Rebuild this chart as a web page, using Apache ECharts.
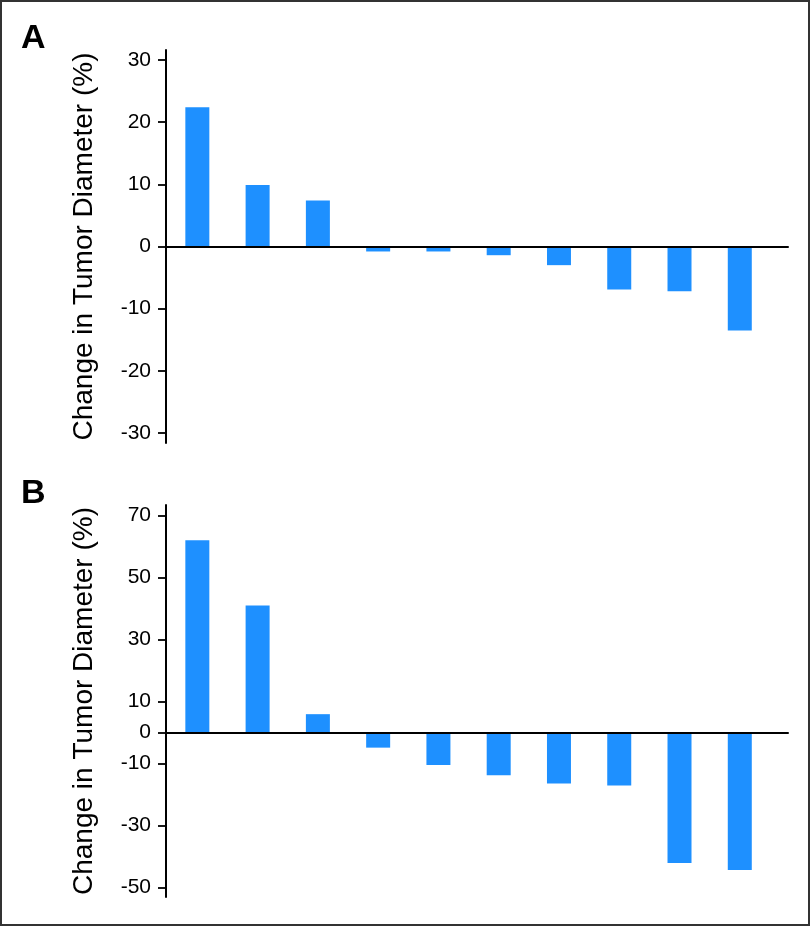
<!DOCTYPE html>
<html>
<head>
<meta charset="utf-8">
<script src="https://cdn.jsdelivr.net/npm/echarts@6/dist/echarts.min.js"></script>
<style>
  html, body { margin: 0; padding: 0; background: #fff; }
  #chart { position: absolute; left: 0; top: 0; width: 812px; height: 926px; }
  #frame { position: absolute; left: 0; top: 0; width: 810px; height: 926px; box-sizing: border-box; border: 2px solid #333; pointer-events: none; }
</style>
</head>
<body>
<div id="chart"></div>
<div id="frame"></div>
<script>
const patients = [1, 2, 3, 4, 5, 6, 7, 8, 9, 10];
const panelA = [22.4, 9.9, 7.4, -0.8, -0.8, -1.4, -3.0, -6.9, -7.2, -13.5];
const panelB = [62.0, 41.0, 5.9, -4.9, -10.5, -13.8, -16.5, -17.1, -42.1, -44.4];
const ticksA = [-30, -20, -10, 0, 10, 20, 30];
const ticksB = [-50, -30, -10, 0, 10, 30, 50, 70];
const panelLabels = ['A', 'B'];
const yTitle = 'Change in Tumor Diameter (%)';

const BLUE = '#1E90FF';
const nameFont = "'Liberation Sans Narrow', 'Liberation Sans', Arial, sans-serif";
const tickFont = "'Liberation Sans', Arial, sans-serif";

function xAxisCfg(gi) {
  return {
    type: 'value', gridIndex: gi, min: 0.48, max: 10.8, z: 3,
    axisLine: { show: true, onZero: true, lineStyle: { color: '#000', width: 2 } },
    axisTick: { show: false }, axisLabel: { show: false }, splitLine: { show: false }
  };
}
function yAxisCfg(gi, min, max, ticks) {
  return {
    type: 'value', gridIndex: gi, min: min, max: max,
    name: yTitle, nameLocation: 'middle', nameGap: 68,
    nameTextStyle: { fontFamily: nameFont, fontSize: 28, color: '#000' },
    axisLine: { show: true, onZero: false, lineStyle: { color: '#000', width: 2 } },
    axisTick: { show: true, customValues: ticks, length: 8, lineStyle: { color: '#000', width: 1.8 } },
    axisLabel: { customValues: ticks, margin: 15, fontFamily: tickFont, fontSize: 21, color: '#000' },
    splitLine: { show: false }
  };
}

const chart = echarts.init(document.getElementById('chart'), null, { renderer: 'canvas' });
chart.setOption({
  animation: false,
  backgroundColor: '#fff',
  title: [
    { text: panelLabels[0], left: 16, top: 17, textStyle: { fontFamily: tickFont, fontSize: 34, fontWeight: 'bold', color: '#000' } },
    { text: panelLabels[1], left: 16, top: 472, textStyle: { fontFamily: tickFont, fontSize: 34, fontWeight: 'bold', color: '#000' } }
  ],
  grid: [
    { left: 166, top: 50, width: 622, height: 393 },
    { left: 166, top: 505, width: 622, height: 392 }
  ],
  xAxis: [xAxisCfg(0), xAxisCfg(1)],
  yAxis: [yAxisCfg(0, -31.6, 31.6, ticksA), yAxisCfg(1, -53.1, 73.4, ticksB)],
  series: [
    { type: 'bar', xAxisIndex: 0, yAxisIndex: 0, barWidth: 24, itemStyle: { color: BLUE },
      data: patients.map((p, i) => [p, panelA[i]]) },
    { type: 'bar', xAxisIndex: 1, yAxisIndex: 1, barWidth: 24, itemStyle: { color: BLUE },
      data: patients.map((p, i) => [p, panelB[i]]) }
  ]
});
</script>
</body>
</html>
